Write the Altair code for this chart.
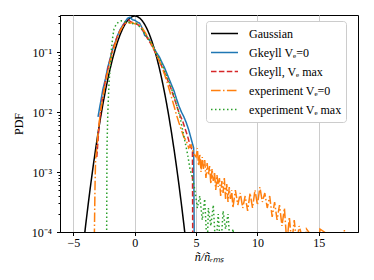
import altair as alt
import pandas as pd

# ---------------- data ----------------
labels = ["Gaussian", "Gkeyll Vₑ=0", "Gkeyll, Vₑ max", "experiment Vₑ=0", "experiment Vₑ max"]
colors = ["#000000", "#1f77b4", "#d62728", "#ff7f0e", "#2ca02c"]
dashes = [[1, 0], [1, 0], [5.5, 2.4], [9.6, 2.4, 1.5, 2.4], [1.5, 2.5]]

gauss_x = [-4.2, -4.0, -3.8, -3.6, -3.4, -3.2, -3.0, -2.8, -2.6, -2.4, -2.2, -2.0, -1.8, -1.6, -1.4,
           -1.2, -1.0, -0.8, -0.6, -0.4, -0.2, 0.0, 0.2, 0.4, 0.6, 0.8, 1.0, 1.2, 1.4, 1.6, 1.8,
           2.0, 2.2, 2.4, 2.6, 2.8, 3.0, 3.2, 3.4, 3.6, 3.8, 4.0, 4.2]
gauss_pdf = [5.89e-5, 1.34e-4, 2.92e-4, 6.12e-4, 1.23e-3, 2.38e-3, 4.43e-3, 7.92e-3, 1.36e-2,
             2.24e-2, 3.55e-2, 5.40e-2, 7.90e-2, 0.1109, 0.1497, 0.1942, 0.2420, 0.2897, 0.3332,
             0.3683, 0.3910, 0.3989, 0.3910, 0.3683, 0.3332, 0.2897, 0.2420, 0.1942, 0.1497,
             0.1109, 7.90e-2, 5.40e-2, 3.55e-2, 2.24e-2, 1.36e-2, 7.92e-3, 4.43e-3, 2.38e-3,
             1.23e-3, 6.12e-4, 2.92e-4, 1.34e-4, 5.89e-5]

blue_x = [-3.0, -2.8, -2.6, -2.4, -2.2, -2.0, -1.8, -1.6, -1.4, -1.2, -1.0, -0.8, -0.6, -0.4,
          -0.2, 0.0, 0.2, 0.4, 0.6, 0.8, 1.0, 1.2, 1.4, 1.6, 1.8, 2.0, 2.2, 2.4, 2.6, 2.8, 3.0,
          3.2, 3.4, 3.6, 3.8, 4.0, 4.2, 4.4, 4.6, 4.8, 4.9]
blue_log = [-2.08, -1.85, -1.62, -1.45, -1.25, -1.10, -0.95, -0.84, -0.72, -0.63, -0.56, -0.50,
            -0.44, -0.42, -0.46, -0.47, -0.50, -0.52, -0.60, -0.72, -0.75, -0.80, -0.88, -0.95,
            -1.02, -1.08, -1.17, -1.25, -1.35, -1.45, -1.55, -1.65, -1.78, -1.90, -2.00, -2.08,
            -2.18, -2.30, -2.45, -2.60, -6.0]

red_x = [-3.1, -2.9, -2.7, -2.5, -2.3, -2.1, -1.9, -1.7, -1.5, -1.3, -1.1, -0.9, -0.7, -0.5,
         -0.3, -0.1, 0.1, 0.3, 0.5, 0.7, 0.9, 1.1, 1.3, 1.5, 1.7, 1.9, 2.1, 2.3, 2.5, 2.7, 2.9,
         3.1, 3.3, 3.5, 3.7, 3.9, 4.1, 4.3, 4.5, 4.7, 4.75]
red_log = [-2.75, -2.20, -1.85, -1.60, -1.38, -1.20, -1.03, -0.90, -0.78, -0.68, -0.60, -0.54,
           -0.50, -0.47, -0.50, -0.52, -0.53, -0.55, -0.60, -0.65, -0.72, -0.80, -0.86, -0.94,
           -1.02, -1.10, -1.20, -1.28, -1.38, -1.48, -1.58, -1.70, -1.82, -1.95, -2.06, -2.15,
           -2.28, -2.40, -2.55, -2.65, -6.0]

orange_x = [-3.3, -3.25, -3.2, -3.1, -3.0, -2.8, -2.6, -2.4, -2.2, -2.0, -1.8, -1.6, -1.4, -1.2,
            -1.0, -0.8, -0.6, -0.4, -0.2, 0.0, 0.2, 0.4, 0.6, 0.8, 1.0, 1.2, 1.4, 1.6, 1.8, 2.0,
            2.2, 2.4, 2.6, 2.8, 3.0, 3.2, 3.4, 3.6, 3.8, 4.0, 4.2, 4.4, 4.6, 4.8,
            5.0, 5.1, 5.2, 5.3, 5.4, 5.5, 5.6, 5.7, 5.8, 5.9, 6.0, 6.1, 6.2, 6.3, 6.4, 6.5,
            6.6, 6.7, 6.8, 6.9, 7.0, 7.1, 7.2, 7.3, 7.4, 7.5, 7.6, 7.7, 7.8, 7.9, 8.0,
            8.2, 8.4, 8.6, 8.8, 9.0, 9.2, 9.4, 9.6, 9.8, 10.0, 10.2, 10.4, 10.6, 10.8, 11.0,
            11.2, 11.4, 11.6, 11.8, 12.0, 12.2, 12.4, 12.6, 12.8, 13.0, 13.2, 13.4, 13.8, 13.9,
            14.0, 14.9, 15.0, 15.1, 16.9, 17.0, 17.1]
orange_log = [-4.1, -3.3, -2.8, -2.6, -2.35, -2.00, -1.75, -1.52, -1.32, -1.15, -1.00, -0.87,
              -0.75, -0.65, -0.58, -0.53, -0.50, -0.52, -0.51, -0.53, -0.52, -0.55, -0.60, -0.66,
              -0.73, -0.80, -0.88, -0.97, -1.06, -1.15, -1.25, -1.36, -1.48, -1.62, -1.76, -1.90,
              -2.05, -2.18, -2.30, -2.42, -2.48, -2.60, -2.55, -2.70,
              -2.75, -2.60, -2.90, -2.70, -3.00, -2.75, -2.95, -2.80, -3.10, -2.85, -3.05, -2.90,
              -3.20, -2.95, -3.15, -3.00, -3.30, -3.05, -3.25, -3.10, -3.40, -3.15, -3.35, -3.10,
              -3.45, -3.20, -3.50, -3.25, -3.45, -3.30, -3.60,
              -3.30, -3.55, -3.35, -3.60, -3.40, -3.65, -3.35, -3.60, -3.30,
              -3.55, -3.25, -3.50, -3.35, -3.60, -3.40, -3.75, -3.50, -3.80, -3.55, -3.90, -3.60,
              -4.20, -3.75, -4.20, -3.80, -4.20, -3.90, -4.20, -4.20, -3.95, -4.20, -4.20, -3.95,
              -4.20, -4.20, -3.95, -4.20]

green_x = [-2.3, -2.27, -2.2, -2.1, -2.0, -1.9, -1.8, -1.7, -1.5, -1.3, -1.1, -0.9, -0.7, -0.5,
           -0.3, -0.1, 0.1, 0.3, 0.5, 0.7, 0.9, 1.1, 1.3, 1.5, 1.7, 1.9, 2.1, 2.3, 2.5, 2.7, 2.9,
           3.1, 3.3, 3.5, 3.7, 3.9, 4.1, 4.3, 4.5, 4.7, 4.9, 5.1, 5.3, 5.5, 5.7, 5.9, 6.0, 6.2,
           6.4, 6.6, 6.8, 7.0, 7.2, 7.4, 7.6, 7.8, 8.0, 8.2, 8.6, 8.7, 8.8, 9.2, 9.3, 9.4, 10.1,
           10.2, 10.3, 11.0, 11.1, 11.2]
green_log = [-4.3, -2.6, -2.0, -1.5, -1.25, -0.95, -0.75, -0.62, -0.53, -0.50, -0.48, -0.49,
             -0.50, -0.50, -0.52, -0.53, -0.52, -0.56, -0.60, -0.66, -0.72, -0.78, -0.84, -0.92,
             -1.00, -1.08, -1.15, -1.25, -1.35, -1.45, -1.55, -1.68, -1.80, -1.95, -2.10, -2.30,
             -2.50, -2.70, -2.95, -3.10, -3.30, -3.60, -3.40, -3.80, -3.45, -4.30, -3.60, -3.90,
             -3.55, -4.30, -3.70, -4.30, -3.65, -3.95, -3.70, -4.30, -3.95, -4.30, -4.30, -4.00,
             -4.30, -4.30, -4.00, -4.30, -4.30, -4.00, -4.30, -4.30, -4.00, -4.30]

x_ticks = [-5, 0, 5, 10, 15]
y_ticks = [1e-4, 2e-4, 3e-4, 4e-4, 5e-4, 6e-4, 7e-4, 8e-4, 9e-4,
           1e-3, 2e-3, 3e-3, 4e-3, 5e-3, 6e-3, 7e-3, 8e-3, 9e-3,
           1e-2, 2e-2, 3e-2, 4e-2, 5e-2, 6e-2, 7e-2, 8e-2, 9e-2,
           0.1, 0.2, 0.3, 0.4]

# ---------------- table ----------------
rows = []
def add(name, xs, ys, is_log):
    for i, (xv, yv) in enumerate(zip(xs, ys)):
        rows.append({"series": name, "i": i, "x": xv, "pdf": 10 ** yv if is_log else yv})

add(labels[0], gauss_x, gauss_pdf, False)
add(labels[1], blue_x, blue_log, True)
add(labels[2], red_x, red_log, True)
add(labels[3], orange_x, orange_log, True)
add(labels[4], green_x, green_log, True)
df = pd.DataFrame(rows)

FONT = "Liberation Serif"

pow_test = "abs(log(datum.value)/LN10 - round(log(datum.value)/LN10)) < 0.001"
label_expr = (
    f"({pow_test}) ? (round(log(datum.value)/LN10) == -4 ? '10⁻⁴' : "
    "round(log(datum.value)/LN10) == -3 ? '10⁻³' : "
    "round(log(datum.value)/LN10) == -2 ? '10⁻²' : '10⁻¹') : ''"
)

legend = alt.Legend(title=None, orient="none", legendX=146, legendY=6)

chart = alt.Chart(df).mark_line(clip=True, strokeWidth=1.5).encode(
    x=alt.X("x:Q",
            scale=alt.Scale(domain=[-6.1, 18.2], nice=False, zero=False),
            axis=alt.Axis(values=x_ticks, title="ñ/ñᵣₘₛ", grid=True, gridColor="#cccccc",
                          gridWidth=1, tickSize=3.5, tickColor="black", domainColor="black",
                          labelPadding=2, titlePadding=3, titleFontStyle="italic",
                          titleFontWeight="normal", format="d")),
    y=alt.Y("pdf:Q",
            scale=alt.Scale(type="log", domain=[1e-4, 0.414], nice=False),
            axis=alt.Axis(values=y_ticks, title="PDF", grid=False, labelExpr=label_expr,
                          tickSize={"condition": {"test": pow_test, "value": 3.5}, "value": 2},
                          tickColor="black", domainColor="black", labelPadding=5,
                          titlePadding=6, titleFontWeight="normal")),
    color=alt.Color("series:N", scale=alt.Scale(domain=labels, range=colors), legend=legend),
    strokeDash=alt.StrokeDash("series:N", scale=alt.Scale(domain=labels, range=dashes),
                              legend=legend),
    order=alt.Order("i:Q"),
).properties(
    width=298, height=217,
    autosize=alt.AutoSizeParams(type="none"),
    padding={"left": 52, "top": 7, "right": 8, "bottom": 40},
).configure_view(
    stroke="black", strokeWidth=1
).configure_axis(
    labelFont=FONT, titleFont=FONT, labelFontSize=12, titleFontSize=12,
    labelColor="black", titleColor="black", domainWidth=1
).configure_legend(
    labelFont=FONT, labelFontSize=12, labelColor="black",
    symbolType="stroke", symbolSize=729, symbolStrokeWidth=1.5,
    fillColor="white", strokeColor="#cccccc", cornerRadius=3, padding=4,
    rowPadding=2, clipHeight=17, labelOffset=10, labelLimit=200
)

chart.save("out.html", embed_options={"renderer": "svg", "actions": False})
